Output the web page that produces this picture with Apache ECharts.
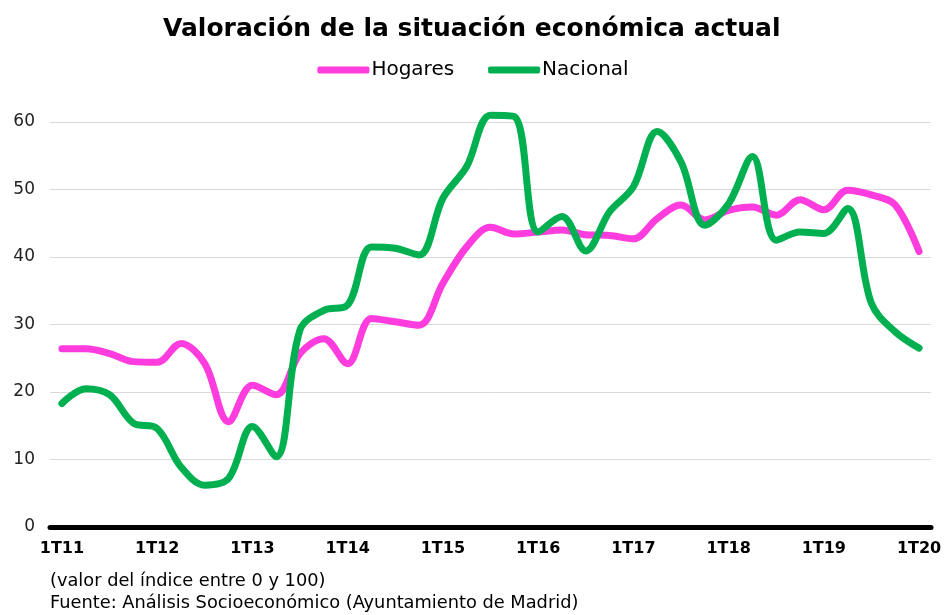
<!DOCTYPE html>
<html>
<head>
<meta charset="utf-8">
<script src="https://cdn.jsdelivr.net/npm/echarts@6/dist/echarts.min.js"></script>
<style>
  html, body { margin: 0; padding: 0; background: #fff; }
  #chart { width: 946px; height: 615px; }
</style>
</head>
<body>
<div id="chart"></div>
<script>
const quarters = [];
for (let y = 11; y <= 20; y++) {
  for (let q = 1; q <= 4; q++) {
    if (y === 20 && q > 1) break;
    quarters.push(q + 'T' + y);
  }
}

const hogares = [26.4, 26.4, 25.7, 24.5, 24.4, 27.2, 24.2, 15.6, 21.0, 19.6,
  25.7, 27.9, 24.2, 30.9, 30.4, 29.9, 36.1, 41.5, 44.4, 43.4,
  43.7, 44.0, 43.3, 43.2, 42.7, 45.7, 47.7, 45.5, 46.9, 47.4,
  46.2, 48.5, 47.0, 49.9, 49.2, 47.7, 40.8];

const nacional = [18.3, 20.5, 19.6, 15.4, 14.6, 8.9, 6.2, 7.2, 14.9, 10.4,
  29.2, 32.1, 32.9, 41.5, 41.3, 40.3, 48.7, 53.4, 61.0, 60.8,
  43.7, 46.0, 40.9, 46.7, 50.4, 58.6, 54.1, 44.7, 47.9, 54.9,
  42.5, 43.7, 43.5, 47.2, 33.1, 28.9, 26.5];

const chart = echarts.init(document.getElementById('chart'));
const font = 'Verdana, "DejaVu Sans", sans-serif';

chart.setOption({
  animation: false,
  title: {
    text: 'Valoración de la situación económica actual',
    left: 158,
    top: 12,
    textStyle: { fontFamily: font, fontWeight: 'bold', fontSize: 25, color: '#000' }
  },
  legend: {
    top: 55,
    left: 'center',
    itemWidth: 52,
    itemHeight: 7,
    itemGap: 34,
    icon: 'roundRect',
    textStyle: { fontFamily: font, fontSize: 20, color: '#000', padding: [0, 0, 0, -3] },
    data: ['Hogares', 'Nacional']
  },
  graphic: [
    { type: 'text', left: 50, top: 572, style: { text: '(valor del índice entre 0 y 100)', font: '17.8px ' + font, fill: '#000' } },
    { type: 'text', left: 50, top: 594, style: { text: 'Fuente: Análisis Socioeconómico (Ayuntamiento de Madrid)', font: '17.8px ' + font, fill: '#000' } }
  ],
  grid: { left: 50, right: 15, top: 122, height: 405, containLabel: false },
  xAxis: {
    type: 'category',
    data: quarters,
    boundaryGap: true,
    axisLine: { lineStyle: { color: '#000', width: 5 } },
    axisTick: { show: false },
    axisLabel: {
      interval: 3,
      margin: 14,
      fontFamily: font, fontWeight: 'bold', fontSize: 16, color: '#000'
    }
  },
  yAxis: {
    type: 'value',
    min: 0,
    max: 60,
    interval: 10,
    axisLine: { show: false },
    axisTick: { show: false },
    splitLine: { lineStyle: { color: '#d9d9d9', width: 1 } },
    axisLabel: { margin: 15, fontFamily: font, fontSize: 17, color: '#222' }
  },
  series: [
    {
      name: 'Hogares', type: 'line', data: hogares, smooth: 0.35,
      symbol: 'none', clip: false,
      lineStyle: { width: 7, color: '#ff3ddf', cap: 'round' },
      itemStyle: { color: '#ff3ddf' }
    },
    {
      name: 'Nacional', type: 'line', data: nacional, smooth: 0.35,
      symbol: 'none', clip: false,
      lineStyle: { width: 7, color: '#00b050', cap: 'round' },
      itemStyle: { color: '#00b050' }
    }
  ]
});
</script>
</body>
</html>
